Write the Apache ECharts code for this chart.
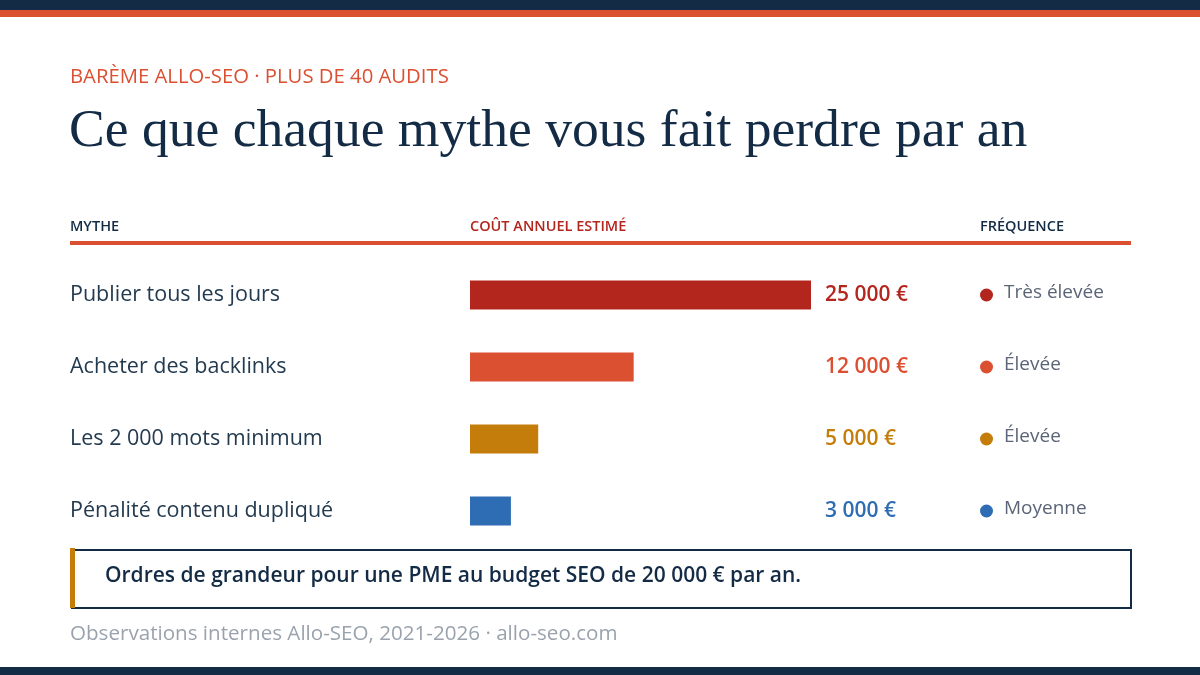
<!DOCTYPE html>
<html>
<head>
<meta charset="utf-8">
<script src="https://cdn.jsdelivr.net/npm/echarts@6/dist/echarts.min.js"></script>
<style>
  html, body { margin: 0; padding: 0; background: #ffffff; }
  #chart { width: 1200px; height: 675px; }
</style>
</head>
<body>
<div id="chart"></div>
<script>
// data
var myths = ['Publier tous les jours', 'Acheter des backlinks', 'Les 2 000 mots minimum', 'Pénalité contenu dupliqué'];
var costs = [25000, 12000, 5000, 3000];
var frequencies = ['Très élevée', 'Élevée', 'Élevée', 'Moyenne'];
var rowColors = ['#b3261e', '#dc5032', '#c47d0a', '#2e6db3'];

var NAVY = '#132b45';
var ORANGE = '#dc5032';
var SANS = "'Open Sans', 'Noto Sans', sans-serif";

var fmtEuro = function(v){
  return String(v).replace(/\B(?=(\d{3})+(?!\d))/g, ' ') + ' €';
};

// rich styles so each value / frequency gets the colour of its row
var valueRich = {};
var freqRich = { t: { color: '#5b6577', fontSize: 19, fontFamily: SANS, padding: [0, 0, 4, 11] } };
rowColors.forEach(function(c, i){
  valueRich['v' + i] = { color: c, fontSize: 21, fontWeight: 600, fontFamily: SANS };
  freqRich['d' + i] = { width: 13, height: 13, borderRadius: 7, backgroundColor: c };
});

var chart = echarts.init(document.getElementById('chart'));

var option = {
  backgroundColor: '#ffffff',
  animation: false,
  grid: { left: 470, width: 341, top: 259, height: 288, containLabel: false },
  xAxis: {
    type: 'value', min: 0, max: 25000,
    show: false
  },
  yAxis: [
    {
      type: 'category', data: myths, inverse: true,
      axisLine: { show: false }, axisTick: { show: false }, splitLine: { show: false },
      axisLabel: {
        align: 'left', margin: 400,
        color: '#233a4f', fontSize: 21.5, fontFamily: SANS
      }
    },
    {
      type: 'category', data: myths, inverse: true, position: 'right', offset: 0,
      axisLine: { show: false }, axisTick: { show: false }, splitLine: { show: false },
      axisLabel: {
        align: 'left', margin: 14,
        formatter: function(v, i){ return '{v' + i + '|' + fmtEuro(costs[i]) + '}'; },
        rich: valueRich
      }
    },
    {
      type: 'category', data: myths, inverse: true, position: 'right', offset: 169,
      axisLine: { show: false }, axisTick: { show: false }, splitLine: { show: false },
      axisLabel: {
        align: 'left', margin: 0,
        formatter: function(v, i){ return '{d' + i + '|}{t|' + frequencies[i] + '}'; },
        rich: freqRich
      }
    }
  ],
  series: [{
    type: 'bar',
    yAxisIndex: 0,
    barWidth: 29,
    data: costs.map(function(v, i){
      return { value: v, itemStyle: { color: rowColors[i] } };
    })
  }],
  graphic: [
    // top bands
    { type: 'rect', left: 0, top: 0, shape: { width: 1200, height: 10 }, style: { fill: NAVY } },
    { type: 'rect', left: 0, top: 10, shape: { width: 1200, height: 7 }, style: { fill: ORANGE } },
    // bottom band
    { type: 'rect', left: 0, top: 667, shape: { width: 1200, height: 8 }, style: { fill: NAVY } },
    // kicker + title
    { type: 'text', left: 70, top: 67, style: {
        text: 'BARÈME ALLO-SEO · PLUS DE 40 AUDITS', fill: ORANGE,
        font: "500 20.3px 'Open Sans', sans-serif" } },
    { type: 'text', left: 69, top: 105, style: {
        text: 'Ce que chaque mythe vous fait perdre par an', fill: NAVY,
        font: "53.6px 'Liberation Serif', 'DejaVu Serif', serif" } },
    // column headers
    { type: 'text', left: 70, top: 219, style: { text: 'MYTHE', fill: NAVY, font: "600 14.5px 'Open Sans', sans-serif" } },
    { type: 'text', left: 470, top: 219, style: { text: 'COÛT ANNUEL ESTIMÉ', fill: '#b3261e', font: "600 14.5px 'Open Sans', sans-serif" } },
    { type: 'text', left: 980, top: 219, style: { text: 'FRÉQUENCE', fill: NAVY, font: "600 14.5px 'Open Sans', sans-serif" } },
    { type: 'rect', left: 70, top: 241, shape: { width: 1061, height: 4 }, style: { fill: ORANGE } },
    // note box
    { type: 'rect', left: 71, top: 549, shape: { width: 1059, height: 58 },
      style: { fill: '#ffffff', stroke: NAVY, lineWidth: 2 } },
    { type: 'rect', left: 70, top: 548, shape: { width: 5, height: 60 }, style: { fill: '#c47d0a' } },
    { type: 'text', left: 105, top: 566, style: {
        text: 'Ordres de grandeur pour une PME au budget SEO de 20 000 € par an.', fill: NAVY,
        font: "600 21px 'Open Sans', sans-serif" } },
    // source
    { type: 'text', left: 70, top: 624, style: {
        text: 'Observations internes Allo-SEO, 2021-2026 · allo-seo.com', fill: '#9aa3ad',
        font: "20.6px 'Open Sans', sans-serif" } }
  ]
};

chart.setOption(option);
</script>
</body>
</html>
